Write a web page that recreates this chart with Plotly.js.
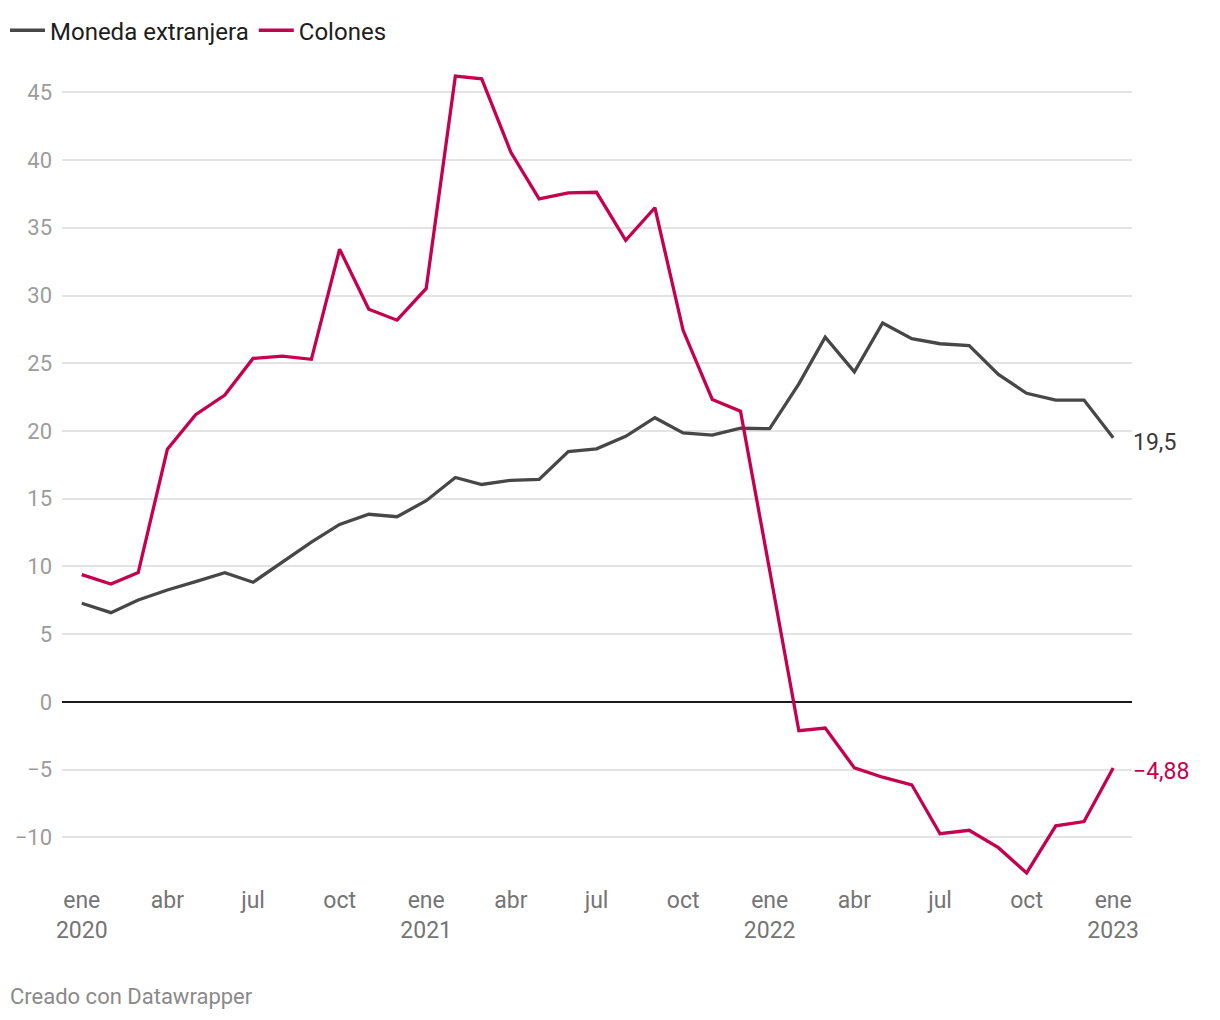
<!DOCTYPE html>
<html>
<head>
<meta charset="utf-8">
<script src="https://cdn.plot.ly/plotly-3.0.1.min.js"></script>
<style>
  html, body { margin: 0; padding: 0; background: #fff; }
  #chart { width: 1220px; height: 1020px; }
</style>
</head>
<body>
<div id="chart"></div>
<script>
const months = [
  '2020-01-01','2020-02-01','2020-03-01','2020-04-01','2020-05-01','2020-06-01',
  '2020-07-01','2020-08-01','2020-09-01','2020-10-01','2020-11-01','2020-12-01',
  '2021-01-01','2021-02-01','2021-03-01','2021-04-01','2021-05-01','2021-06-01',
  '2021-07-01','2021-08-01','2021-09-01','2021-10-01','2021-11-01','2021-12-01',
  '2022-01-01','2022-02-01','2022-03-01','2022-04-01','2022-05-01','2022-06-01',
  '2022-07-01','2022-08-01','2022-09-01','2022-10-01','2022-11-01','2022-12-01',
  '2023-01-01'
];

const monedaExtranjera = [
  7.28, 6.59, 7.52, 8.26, 8.88, 9.54, 8.83, 10.3, 11.8, 13.1, 13.85, 13.67,
  14.85, 16.57, 16.05, 16.36, 16.42, 18.48, 18.68, 19.6, 20.98, 19.86, 19.7, 20.2,
  20.17, 23.48, 26.93, 24.36, 27.97, 26.81, 26.44, 26.31, 24.17, 22.78, 22.28, 22.28,
  19.5
];

const colones = [
  9.4, 8.7, 9.55, 18.66, 21.2, 22.65, 25.36, 25.52, 25.29, 33.42, 28.99, 28.18,
  30.52, 46.2, 46.0, 40.57, 37.14, 37.57, 37.62, 34.08, 36.48, 27.43, 22.33, 21.46,
  9.7, -2.13, -1.93, -4.87, -5.56, -6.12, -9.73, -9.48, -10.76, -12.63, -9.15, -8.83,
  -4.88
];

const endLabels = ['19,5', '\u22124,88'];

const tickVals = [
  '2020-01-01','2020-04-01','2020-07-01','2020-10-01',
  '2021-01-01','2021-04-01','2021-07-01','2021-10-01',
  '2022-01-01','2022-04-01','2022-07-01','2022-10-01',
  '2023-01-01'
];
const tickText = [
  'ene<br>2020','abr','jul','oct',
  'ene<br>2021','abr','jul','oct',
  'ene<br>2022','abr','jul','oct',
  'ene<br>2023'
];
const yTicks = [-10, -5, 0, 5, 10, 15, 20, 25, 30, 35, 40, 45];

const colGray = '#474747';
const colRed = '#c5004f';

const traces = [
  {
    x: months, y: monedaExtranjera, name: 'Moneda extranjera',
    type: 'scatter', mode: 'lines',
    line: { color: colGray, width: 3.3 }, hoverinfo: 'skip'
  },
  {
    x: months, y: colones, name: 'Colones',
    type: 'scatter', mode: 'lines',
    line: { color: colRed, width: 3.3 }, hoverinfo: 'skip'
  }
];

const last = months.length - 1;

const layout = {
  width: 1220, height: 1020,
  paper_bgcolor: '#ffffff', plot_bgcolor: '#ffffff',
  font: { family: 'Roboto, sans-serif', size: 22, color: '#222' },
  margin: { l: 62, r: 88, t: 72, b: 142 },
  showlegend: true,
  legend: {
    orientation: 'h', xref: 'container', yref: 'container',
    x: 0.0041, y: 0.992, xanchor: 'left', yanchor: 'top',
    itemwidth: 35,
    font: { size: 24, color: '#1d1d1d' },
    itemclick: false, itemdoubleclick: false,
    traceorder: 'normal', bgcolor: 'rgba(0,0,0,0)'
  },
  xaxis: {
    type: 'date',
    range: ['2019-12-11', '2023-01-21'],
    tickmode: 'array', tickvals: tickVals, ticktext: tickText,
    showgrid: false, zeroline: false, showline: false,
    ticks: '', tickfont: { size: 23, color: '#757575' },
    ticklabelstandoff: 6,
    fixedrange: true
  },
  yaxis: {
    range: [-13, 46.5],
    tickmode: 'array', tickvals: yTicks,
    showgrid: true, gridcolor: '#e3e3e3', gridwidth: 2,
    zeroline: true, zerolinecolor: '#1a1a1a', zerolinewidth: 1.5,
    showline: false, ticks: '',
    tickfont: { size: 22, color: '#9c9c9c' },
    ticklabelstandoff: 9,
    fixedrange: true
  },
  annotations: [
    {
      x: months[last], y: monedaExtranjera[last], xref: 'x', yref: 'y',
      text: endLabels[0], showarrow: false, xanchor: 'left', yanchor: 'middle',
      xshift: 18, yshift: -5,
      font: { size: 23, color: '#3a3a3a' }
    },
    {
      x: months[last], y: colones[last], xref: 'x', yref: 'y',
      text: endLabels[1], showarrow: false, xanchor: 'left', yanchor: 'middle',
      xshift: 18, yshift: -3,
      font: { size: 23, color: colRed }
    },
    {
      x: -0.0505, y: -0.1476, xref: 'paper', yref: 'paper',
      text: 'Creado con Datawrapper', showarrow: false,
      xanchor: 'left', yanchor: 'middle',
      font: { size: 22, color: '#8a8a8a' }
    }
  ]
};

Plotly.newPlot('chart', traces, layout, { displayModeBar: false, staticPlot: true });
</script>
</body>
</html>
